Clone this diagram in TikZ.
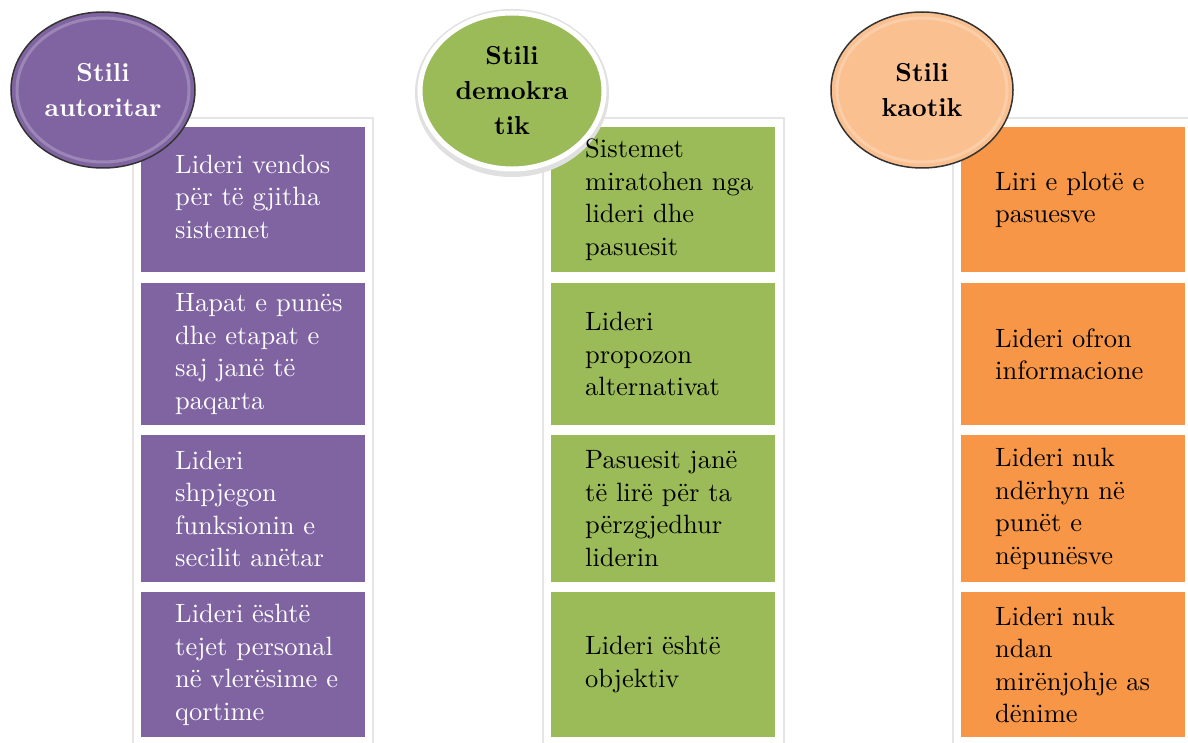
\documentclass[tikz,border=0pt]{standalone}
\usepackage{fontspec}
\setmainfont{Latin Modern Roman}[OpticalSize=10]
\usetikzlibrary{shapes.geometric}
\definecolor{cpurple}{HTML}{8064A2}
\definecolor{cgreen}{HTML}{9BBB59}
\definecolor{corange}{HTML}{F79646}
\definecolor{cpeach}{HTML}{FAC090}
\begin{document}
\begin{tikzpicture}[x=1pt,y=-1pt,
  frame/.style={fill=white, draw=black!10, line width=1.5pt},
  itembox/.style={draw=none, minimum width=224pt, inner sep=0pt, anchor=north west},
  itemtext/.style={anchor=west, align=left, inner sep=0pt, font=\fontsize{26.5}{32.5}\selectfont},
  head/.style={ellipse, inner sep=0pt, minimum width=184pt, minimum height=156pt, align=center, font=\bfseries\fontsize{26}{35}\selectfont},
  rim/.style={white, opacity=.22, line width=3pt},
]
\useasboundingbox (0,0) rectangle (1188,743);
\clip (0,0) rectangle (1188,743);
\fill[white] (0,0) rectangle (1188,743);

% column frames
\draw[frame] (133,118) rectangle (373,760);
\draw[frame] (543,118) rectangle (784,760);
\draw[frame] (953,118) rectangle (1200,760);

% column 1 boxes
\node[itembox, fill=cpurple, minimum height=145pt] (a1) at (141,127) {};
\node[itembox, fill=cpurple, minimum height=142pt] (a2) at (141,283) {};
\node[itembox, fill=cpurple, minimum height=147pt] (a3) at (141,435) {};
\node[itembox, fill=cpurple, minimum height=145pt] (a4) at (141,592) {};
% column 2 boxes
\node[itembox, fill=cgreen, minimum height=145pt] (b1) at (551,127) {};
\node[itembox, fill=cgreen, minimum height=142pt] (b2) at (551,283) {};
\node[itembox, fill=cgreen, minimum height=147pt] (b3) at (551,435) {};
\node[itembox, fill=cgreen, minimum height=145pt] (b4) at (551,592) {};
% column 3 boxes
\node[itembox, fill=corange, minimum height=145pt] (c1) at (961,127) {};
\node[itembox, fill=corange, minimum height=142pt] (c2) at (961,283) {};
\node[itembox, fill=corange, minimum height=147pt] (c3) at (961,435) {};
\node[itembox, fill=corange, minimum height=145pt] (c4) at (961,592) {};

% headings
\node[head, fill=cpurple, draw=black!80, line width=1.5pt, text=white] (h1) at (103,90) {Stili\\autoritar};
\draw[rim] (h1.center) ellipse [x radius=86pt, y radius=72pt];

\fill[black!12] (512,93) ellipse [x radius=97pt, y radius=84pt];
\node[head, fill=cgreen, draw=white, line width=5pt, text=black] (h2) at (512,91) {Stili\\demokra\\tik};

\node[head, fill=cpeach, draw=black!80, line width=1.5pt, text=black, minimum width=182pt] (h3) at (922,90) {Stili\\kaotik};
\draw[rim] (h3.center) ellipse [x radius=85pt, y radius=72pt];

% texts column 1
\node[itemtext, text=white] (ta1) at ([xshift=34pt,yshift=3pt]a1.west) {Lideri vendos\\për të gjitha\\sistemet};
\node[itemtext, text=white] (ta2) at ([xshift=34pt]a2.west) {Hapat e punës\\dhe etapat e\\saj janë të\\paqarta};
\node[itemtext, text=white] (ta3) at ([xshift=34pt]a3.west) {Lideri\\shpjegon\\funksionin e\\secilit anëtar};
\node[itemtext, text=white] (ta4) at ([xshift=34pt]a4.west) {Lideri është\\tejet personal\\në vlerësime e\\qortime};
% texts column 2
\node[itemtext] (tb1) at ([xshift=34pt]b1.west) {Sistemet\\miratohen nga\\lideri dhe\\pasuesit};
\node[itemtext] (tb2) at ([xshift=34pt]b2.west) {Lideri\\propozon\\alternativat};
\node[itemtext] (tb3) at ([xshift=34pt]b3.west) {Pasuesit janë\\të lirë për ta\\përzgjedhur\\liderin};
\node[itemtext] (tb4) at ([xshift=34pt]b4.west) {Lideri është\\objektiv};
% texts column 3
\node[itemtext] (tc1) at ([xshift=34pt]c1.west) {Liri e plotë e\\pasuesve};
\node[itemtext] (tc2) at ([xshift=34pt]c2.west) {Lideri ofron\\informacione};
\node[itemtext] (tc3) at ([xshift=34pt]c3.west) {Lideri nuk\\ndërhyn në\\punët e\\nëpunësve};
\node[itemtext] (tc4) at ([xshift=34pt]c4.west) {Lideri nuk\\ndan\\mirënjohje as\\dënime};
\end{tikzpicture}
\end{document}
